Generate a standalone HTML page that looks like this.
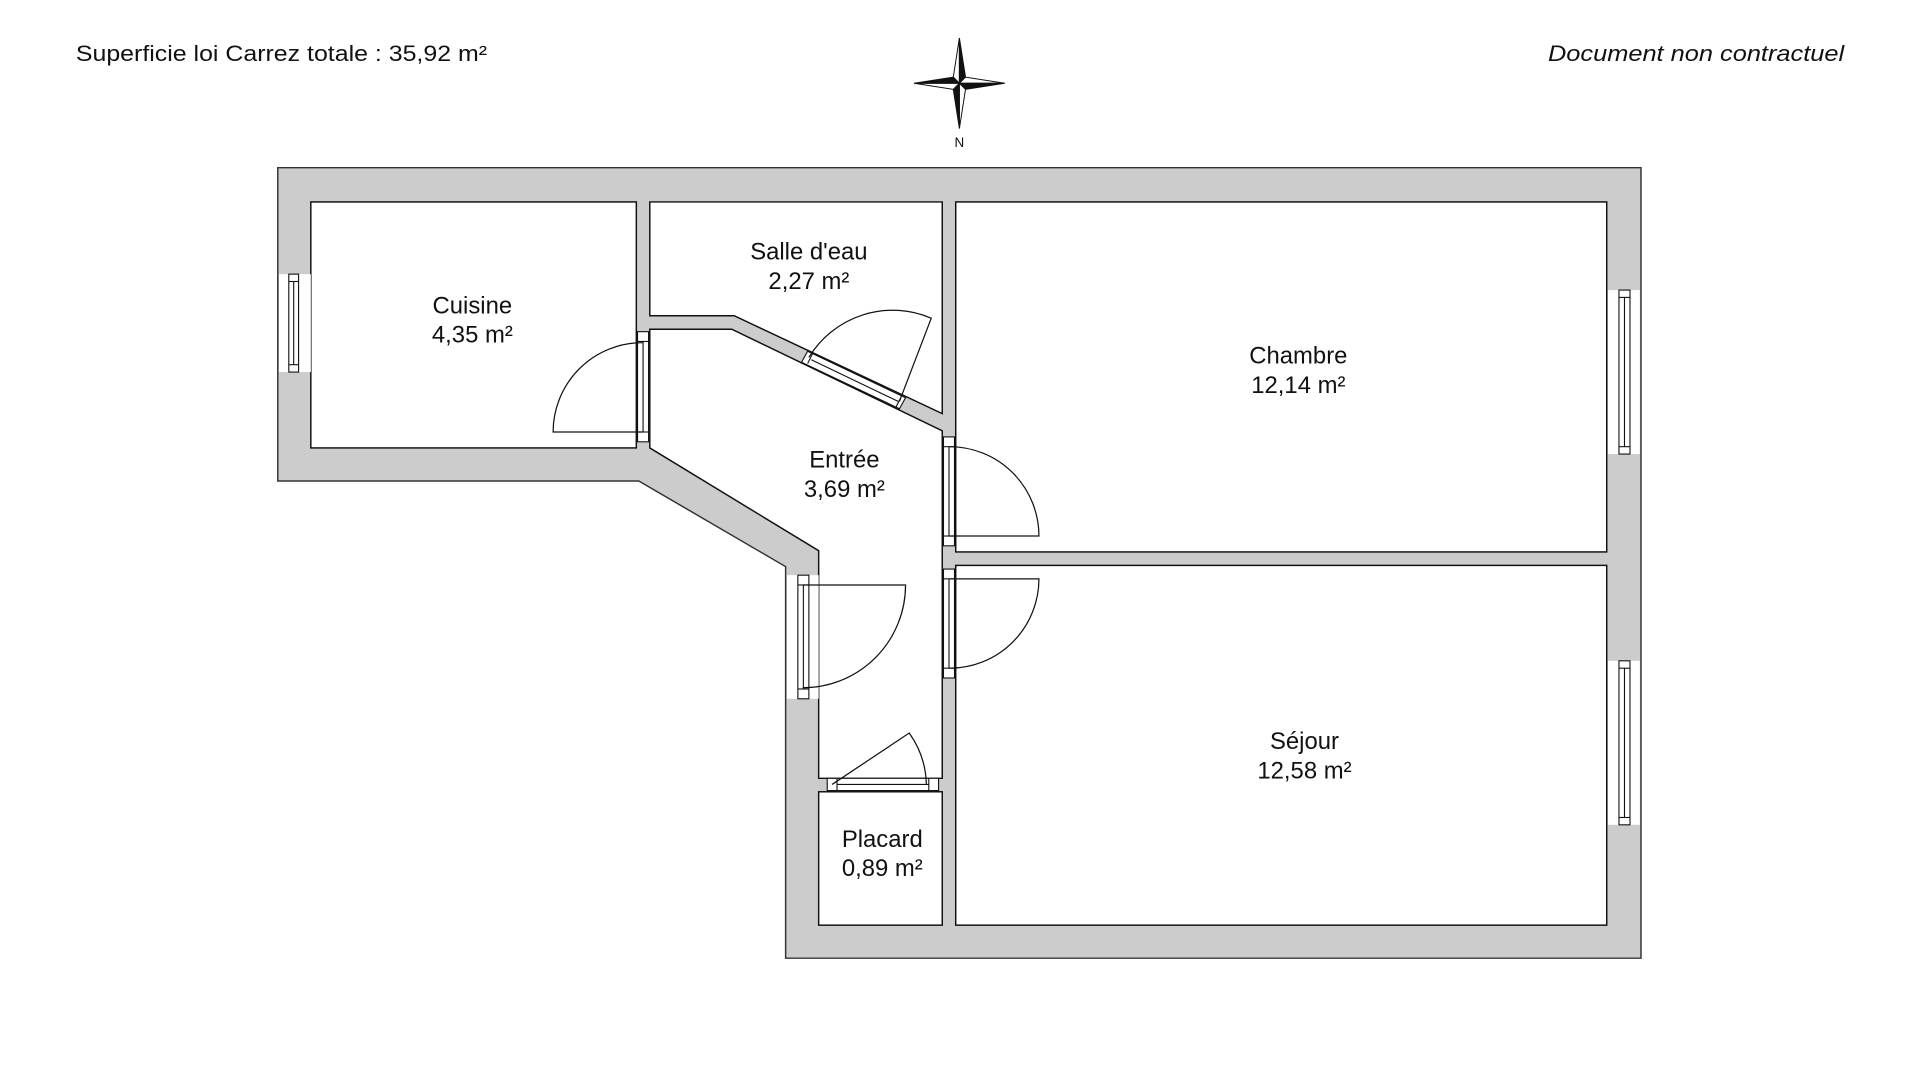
<!DOCTYPE html>
<html><head><meta charset="utf-8"><style>
html,body{margin:0;padding:0;background:#fff;}
svg{display:block;}
text{font-family:"Liberation Sans",sans-serif;fill:#111;}
</style></head><body>
<svg width="1920" height="1080" viewBox="0 0 1569 882.5" xmlns="http://www.w3.org/2000/svg">
<rect width="1569" height="882.5" fill="#fff"/>
<text x="62" y="50" font-size="18" textLength="336" lengthAdjust="spacingAndGlyphs">Superficie loi Carrez totale :  35,92 m²</text>
<text x="1265" y="50" font-size="18" font-style="italic" textLength="242" lengthAdjust="spacingAndGlyphs">Document non contractuel</text>
<!-- compass -->
<g transform="translate(784,68)" stroke="#111" stroke-width="0.8">
<polygon points="0,-37 -5,-5 0,0" fill="#fff"/><polygon points="0,-37 5,-5 0,0" fill="#111"/>
<polygon points="37,0 5,-5 0,0" fill="#fff"/><polygon points="37,0 5,5 0,0" fill="#111"/>
<polygon points="0,37 5,5 0,0" fill="#fff"/><polygon points="0,37 -5,5 0,0" fill="#111"/>
<polygon points="-37,0 -5,5 0,0" fill="#fff"/><polygon points="-37,0 -5,-5 0,0" fill="#111"/>
</g>
<text x="784" y="120" font-size="11" text-anchor="middle">N</text>
<!-- outer walls -->
<polygon points="227,137 1341,137 1341,783 642,783 642,463 522,393 227,393" fill="#cccccc" stroke="#333" stroke-width="1.2"/>
<!-- rooms -->
<g fill="#fff" stroke="#111" stroke-width="1.2">
<rect x="254" y="165" width="266" height="201"/>
<polygon points="531,165 770,165 770,338 600,258 531,258"/>
<polygon points="531,269 598,269 770,352 770,636 669,636 669,450 531,366"/>
<rect x="669" y="647" width="101" height="109"/>
<rect x="781" y="165" width="532" height="286"/>
<rect x="781" y="462" width="532" height="294"/>
</g>
<!-- windows -->
<g fill="#fff" stroke="none">
<rect x="228" y="224" width="26" height="80"/>
<rect x="1314" y="237" width="26" height="134"/>
<rect x="1314" y="540" width="26" height="134"/>
<rect x="643" y="470" width="26" height="101"/>
</g>
<g fill="#fff" stroke="#111" stroke-width="0.9">
<rect x="236" y="224" width="8" height="80"/><line x1="240" y1="230" x2="240" y2="298"/><line x1="236" y1="230" x2="244" y2="230"/><line x1="236" y1="298" x2="244" y2="298"/>
<rect x="1323" y="237" width="9" height="134"/><line x1="1327.5" y1="243" x2="1327.5" y2="365"/><line x1="1323" y1="243" x2="1332" y2="243"/><line x1="1323" y1="365" x2="1332" y2="365"/>
<rect x="1323" y="540" width="9" height="134"/><line x1="1327.5" y1="546" x2="1327.5" y2="668"/><line x1="1323" y1="546" x2="1332" y2="546"/><line x1="1323" y1="668" x2="1332" y2="668"/>
<rect x="521" y="271" width="9" height="90"/><line x1="525.5" y1="279" x2="525.5" y2="353"/><line x1="521" y1="279" x2="530" y2="279"/><line x1="521" y1="353" x2="530" y2="353"/>
<rect x="771" y="357" width="9" height="89"/><line x1="775.5" y1="365" x2="775.5" y2="438"/><line x1="771" y1="365" x2="780" y2="365"/><line x1="771" y1="438" x2="780" y2="438"/>
<rect x="771" y="465" width="9" height="89"/><line x1="775.5" y1="473" x2="775.5" y2="546"/><line x1="771" y1="473" x2="780" y2="473"/><line x1="771" y1="546" x2="780" y2="546"/>
<rect x="652" y="470" width="9" height="101"/><line x1="656.5" y1="478" x2="656.5" y2="563"/><line x1="652" y1="478" x2="661" y2="478"/><line x1="652" y1="563" x2="661" y2="563"/>
<rect x="676" y="636" width="91" height="10"/><line x1="684" y1="641" x2="759" y2="641"/><line x1="684" y1="636" x2="684" y2="646"/><line x1="759" y1="636" x2="759" y2="646"/>
<polygon points="660,287 740,325 735,334 655,296"/><line x1="663" y1="294" x2="734" y2="328"/><line x1="664" y1="289" x2="660" y2="297"/><line x1="736" y1="325" x2="732" y2="333"/>
</g>
<!-- door swings -->
<g fill="none" stroke="#111" stroke-width="1">
<path d="M525,353 L452,353 A73,73 0 0 1 525,280"/>
<path d="M776,438 L849,438 A73,73 0 0 0 776,365"/>
<path d="M776,473 L849,473 A73,73 0 0 1 776,546"/>
<path d="M656,478 L740,478 A84,84 0 0 1 656,562"/>
<path d="M735,328 L761,260 A80,80 0 0 0 661,292"/>
<path d="M680,641 L743,599 A75,75 0 0 1 757,641"/>
</g>
<!-- labels -->
<g font-size="19.5" text-anchor="middle">
<text x="386" y="256">Cuisine</text><text x="386" y="280">4,35 m²</text>
<text x="661" y="212">Salle d'eau</text><text x="661" y="236">2,27 m²</text>
<text x="1061" y="297">Chambre</text><text x="1061" y="321">12,14 m²</text>
<text x="690" y="382">Entrée</text><text x="690" y="406">3,69 m²</text>
<text x="1066" y="612">Séjour</text><text x="1066" y="636">12,58 m²</text>
<text x="721" y="692">Placard</text><text x="721" y="716">0,89 m²</text>
</g>
</svg>
</body></html>
